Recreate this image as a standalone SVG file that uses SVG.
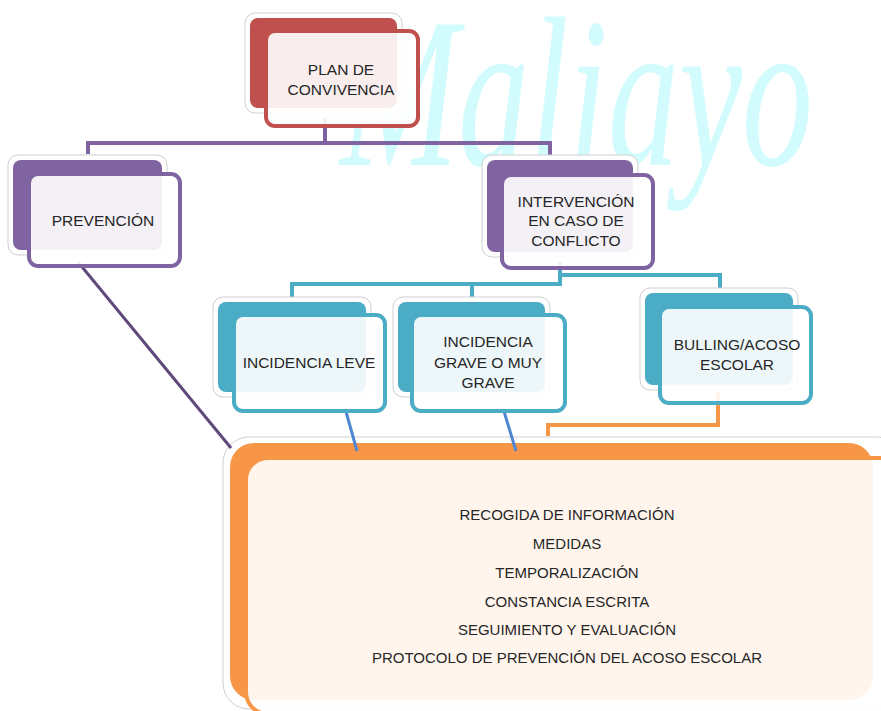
<svg xmlns="http://www.w3.org/2000/svg" width="881" height="711" viewBox="0 0 881 711">
<style>
.glow{fill:#ffffff;stroke:#cfcfcf;stroke-width:1}
.front{fill:#ffffff;fill-opacity:0.9;stroke-width:4}
.red .back{fill:#c0504d}.red .front{stroke:#c0504d}
.pur .back{fill:#8064a2}.pur .front{stroke:#8064a2}
.teal .back{fill:#4bacc6}.teal .front{stroke:#4bacc6}
.org .back{fill:#f79646}.org .front{stroke:#f79646}
text{font-family:"Liberation Sans",Arial,sans-serif;font-size:15.5px;fill:#262626;text-anchor:middle}
.big{font-size:15px}
.wm{font-family:"Liberation Serif",serif;font-style:italic;font-size:215px;fill:#d2fbfd;text-anchor:start}
.c{fill:none;stroke-linejoin:miter}
</style>
<rect width="881" height="711" fill="#ffffff"/>
<text class="wm" transform="translate(340,165) scale(0.66,1)">Maliayo</text>

<g id="node-acciones" class="org">
<rect class="glow" x="223" y="437" width="680" height="272" rx="26"/>
<rect class="back" x="230" y="443" width="643" height="257" rx="24"/>
<rect class="front" x="246" y="458" width="660" height="256" rx="22"/>
<text class="big" x="567" y="520">RECOGIDA DE INFORMACIÓN</text>
<text class="big" x="567" y="549">MEDIDAS</text>
<text class="big" x="567" y="578">TEMPORALIZACIÓN</text>
<text class="big" x="567" y="607">CONSTANCIA ESCRITA</text>
<text class="big" x="567" y="635">SEGUIMIENTO Y EVALUACIÓN</text>
<text class="big" x="567" y="663">PROTOCOLO DE PREVENCIÓN DEL ACOSO ESCOLAR</text>
</g>

<g id="connectors">
<path class="c" d="M88,154 V143 H550 V158 M325,118 V143" stroke="#8064a2" stroke-width="4"/>
<path class="c" d="M292,298 V284 H560 V262 M560,275 H720 V291 M472,284 V298" stroke="#4bacc6" stroke-width="4"/>
<path class="c" d="M718,392 V425 H548 V436" stroke="#f79646" stroke-width="4"/>
<path class="c" d="M345,408 L357,451 M503,408 L516,451" stroke="#4f86d2" stroke-width="3"/>
<path class="c" d="M78,262 L231,448" stroke="#5f497a" stroke-width="3"/>
</g>

<g id="node-plan" class="red">
<rect class="glow" x="245" y="13" width="157" height="100" rx="10"/>
<rect class="back" x="250" y="18" width="147" height="90" rx="8"/>
<rect class="front" x="266" y="31" width="152" height="95" rx="9"/>
<text x="341" y="75">PLAN DE</text>
<text x="341" y="95">CONVIVENCIA</text>
</g>

<g id="node-prevencion" class="pur">
<rect class="glow" x="8" y="155" width="159" height="100" rx="10"/>
<rect class="back" x="13" y="160" width="149" height="90" rx="8"/>
<rect class="front" x="29" y="174" width="151" height="92" rx="9"/>
<text x="103" y="226">PREVENCIÓN</text>
</g>

<g id="node-intervencion" class="pur">
<rect class="glow" x="482" y="155" width="156" height="102" rx="10"/>
<rect class="back" x="487" y="160" width="146" height="92" rx="8"/>
<rect class="front" x="502" y="175" width="151" height="93" rx="9"/>
<text x="576" y="207">INTERVENCIÓN</text>
<text x="576" y="226">EN CASO DE</text>
<text x="576" y="246">CONFLICTO</text>
</g>

<g id="node-leve" class="teal">
<rect class="glow" x="213" y="297" width="158" height="100" rx="10"/>
<rect class="back" x="218" y="302" width="148" height="90" rx="8"/>
<rect class="front" x="234" y="315" width="151" height="96" rx="9"/>
<text x="309" y="368">INCIDENCIA LEVE</text>
</g>

<g id="node-grave" class="teal">
<rect class="glow" x="393" y="297" width="157" height="100" rx="10"/>
<rect class="back" x="398" y="302" width="147" height="90" rx="8"/>
<rect class="front" x="412" y="315" width="153" height="96" rx="9"/>
<text x="488" y="347">INCIDENCIA</text>
<text x="488" y="368">GRAVE O MUY</text>
<text x="488" y="388">GRAVE</text>
</g>

<g id="node-bulling" class="teal">
<rect class="glow" x="640" y="288" width="158" height="102" rx="10"/>
<rect class="back" x="645" y="293" width="148" height="92" rx="8"/>
<rect class="front" x="660" y="307" width="151" height="96" rx="9"/>
<text x="737" y="350">BULLING/ACOSO</text>
<text x="737" y="370">ESCOLAR</text>
</g>
</svg>
